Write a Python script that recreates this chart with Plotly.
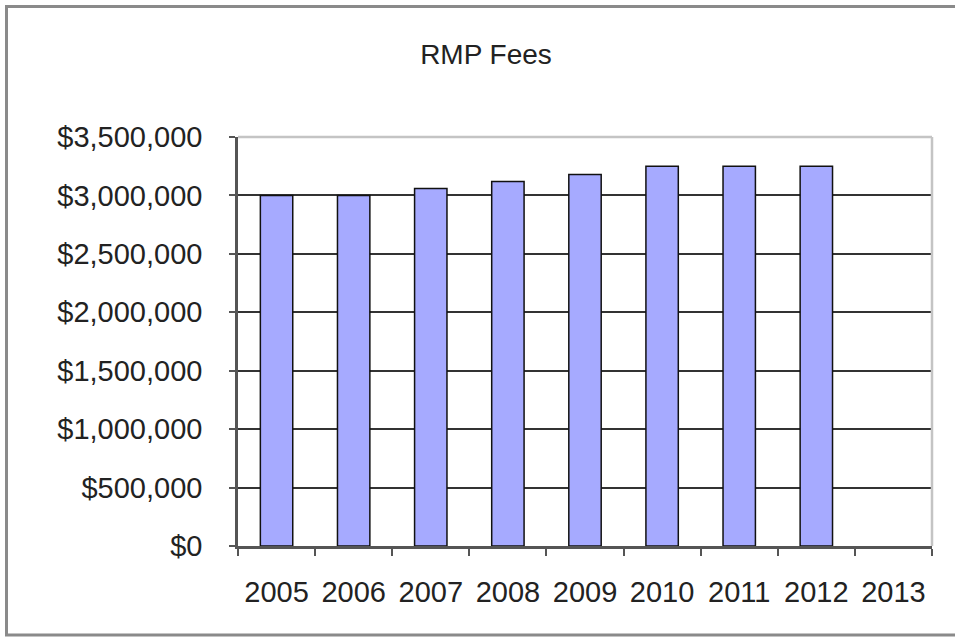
import plotly.graph_objects as go

# RMP fee totals by year (2013 has no bar)
years = ["2005", "2006", "2007", "2008", "2009", "2010", "2011", "2012", "2013"]
fees = [3000000, 3000000, 3060000, 3120000, 3180000, 3250000, 3250000, 3250000, None]
y_ticks = [0, 500000, 1000000, 1500000, 2000000, 2500000, 3000000, 3500000]

W, H = 955, 637
L, R, T, B = 238, 23, 137, 91
pw, ph = W - L - R, H - T - B


def px_x(x):
    return (x - L) / pw


def px_y(y):
    return (H - B - y) / ph


fig = go.Figure()
fig.add_trace(go.Bar(
    x=years, y=fees,
    marker=dict(color="#a6aaff", line=dict(color="#111111", width=1.5)),
))

font = dict(family="Liberation Sans, Arial, sans-serif", size=29, color="#222222")

fig.update_layout(
    width=W, height=H,
    margin=dict(l=L, r=R, t=T, b=B),
    paper_bgcolor="white", plot_bgcolor="white",
    showlegend=False,
    bargap=0.58,
    font=font,
    title=dict(text="RMP Fees", x=486 / W, xanchor="center", y=1 - 54 / H, yanchor="middle",
               font=dict(family=font["family"], size=28, color="#222222")),
)
fig.update_xaxes(
    type="category", categoryorder="array", categoryarray=years,
    showline=True, linecolor="#555555", linewidth=2.5,
    ticks="outside", tickson="boundaries", ticklen=7, tickwidth=2, tickcolor="#555555",
    ticklabelstandoff=18, showgrid=False,
)
fig.update_yaxes(
    range=[0, 3500000], tickvals=y_ticks, tickformat="$,.0f",
    showline=True, linecolor="#555555", linewidth=2.5,
    ticks="outside", ticklen=6, tickwidth=2, tickcolor="#555555",
    ticklabelstandoff=21,
    showgrid=True, gridcolor="#333333", gridwidth=1.5, zeroline=False,
)

# plot-area border (top and right, light grey)
fig.add_shape(type="line", xref="paper", yref="paper", x0=0, x1=1, y0=1, y1=1,
              line=dict(color="#c4c4c4", width=2.5))
fig.add_shape(type="line", xref="paper", yref="paper", x0=1, x1=1, y0=0, y1=1,
              line=dict(color="#c4c4c4", width=2.5))
# outer chart frame
fig.add_shape(type="rect", xref="paper", yref="paper",
              x0=px_x(6.5), x1=px_x(970), y0=px_y(635), y1=px_y(6.5),
              line=dict(color="#8a8a8a", width=3), layer="below")

fig.write_html("out.html", config={"displayModeBar": False},
               post_script="document.body.style.margin='0';")
